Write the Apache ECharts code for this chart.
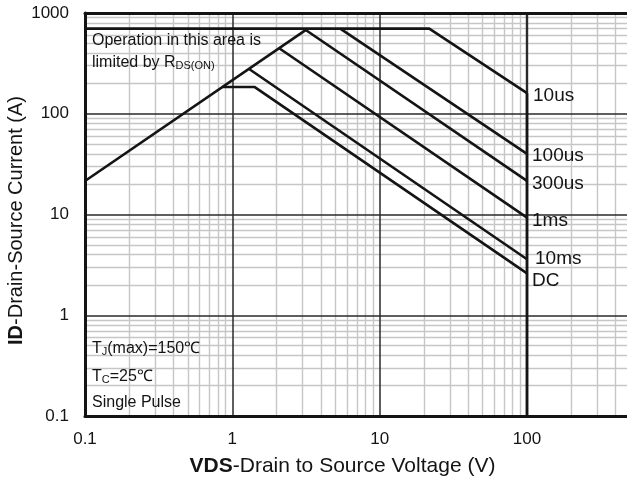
<!DOCTYPE html>
<html>
<head>
<meta charset="utf-8">
<script src="https://cdn.jsdelivr.net/npm/echarts@6/dist/echarts.min.js"></script>
<style>
    html, body {margin: 0; padding: 0; background: #fff;}
    #soa {width: 627px; height: 485px;}
</style>
</head>
<body>
<div id="soa"></div>
<script>
// Safe operating area, VDS (V) vs ID (A), log-log
const vdsRange = [0.1, 500]
const idRange = [0.1, 1000]
const decades = [0.1, 1, 10, 100]
const minorSteps = [2, 3, 4, 5, 6, 7, 8, 9]
const majorVds = [1, 10]
const majorId = [1, 10, 100]

// curves, [VDS, ID]
const rdsLimit = [[0.1, 21.5], [3.25, 700]]
const curve10us = [[0.1, 700], [21.7, 700], [100, 160]]
const curve100us = [[5.4, 700], [100, 40]]
const curve300us = [[3.15, 678], [100, 21.6]]
const curve1ms = [[2.08, 447], [100, 9.3]]
const curve10ms = [[1.3, 278], [100, 3.6]]
const curveDC = [[0.86, 184], [1.42, 184], [100, 2.6]]
const vdsMax = [[100, 160], [100, 0.1]]

const FONT = "'Liberation Sans', Arial, sans-serif"
const INK = '#141414'

function minorValues(limit) {
    const out = []
    for (const d of decades) {
        for (const k of minorSteps) {
            const v = Number((k * d).toPrecision(3))
            if (v < limit) out.push(v)
        }
    }
    return out
}

function decadeLabel(v) {
    const e = Math.log10(v)
    if (Math.abs(e - Math.round(e)) > 1e-6) return ''
    return String(Number(v.toPrecision(3)))
}

function curve(name, data, offset) {
    return {
        name: name,
        type: 'line',
        z: 3,
        data: data,
        symbol: 'none',
        silent: true,
        lineStyle: {color: INK, width: 2.6},
        endLabel: {
            show: name !== '',
            formatter: name,
            color: INK,
            fontFamily: FONT,
            fontSize: 19,
            textBorderWidth: 0,
            distance: 4,
            offset: offset || [0, 0]
        }
    }
}

const minorLines = []
for (const v of minorValues(vdsRange[1])) minorLines.push({xAxis: v})
for (const v of minorValues(idRange[1])) minorLines.push({yAxis: v})

const majorLines = []
for (const v of majorVds) majorLines.push({xAxis: v})
for (const v of majorId) majorLines.push({yAxis: v})
majorLines.push({xAxis: 100, lineStyle: {width: 2.4}})

const logAxisBase = {
    type: 'log',
    logBase: 10,
    splitLine: {show: false},
    axisTick: {show: false},
    nameMoveOverlap: false,
    z: 10
}

const option = {
    animation: false,
    textStyle: {fontFamily: FONT},
    grid: {left: 85, right: -3, top: 13, bottom: 69, outerBoundsMode: 'none', containLabel: false},
    xAxis: [
        Object.assign({}, logAxisBase, {
            min: vdsRange[0],
            max: vdsRange[1],
            position: 'bottom',
            axisLine: {onZero: false, lineStyle: {color: INK, width: 3}},
            axisLabel: {
                color: INK, fontSize: 17, margin: 15,
                showMinLabel: true, showMaxLabel: false,
                formatter: decadeLabel
            },
            name: '{b|VDS}-Drain to Source Voltage (V)',
            nameLocation: 'middle',
            nameGap: 40,
            nameTextStyle: {
                color: INK, fontSize: 21,
                padding: [0, 30, 0, 0],
                rich: {b: {fontWeight: 'bold', fontSize: 21, color: INK}}
            }
        }),
        Object.assign({}, logAxisBase, {
            min: vdsRange[0],
            max: vdsRange[1],
            position: 'top',
            axisLine: {onZero: false, lineStyle: {color: INK, width: 3}},
            axisLabel: {show: false}
        })
    ],
    yAxis: Object.assign({}, logAxisBase, {
        min: idRange[0],
        max: idRange[1],
        axisLine: {show: true, onZero: false, lineStyle: {color: INK, width: 3}},
        axisLabel: {
            color: INK, fontSize: 17, margin: 16,
            showMinLabel: true, showMaxLabel: true,
            formatter: decadeLabel
        },
        name: '{b|ID}-Drain-Source Current (A)',
        nameLocation: 'middle',
        nameGap: 59,
        nameTextStyle: {
            color: INK, fontSize: 20,
            padding: [0, 12, 0, 0],
            rich: {b: {fontWeight: 'bold', fontSize: 20, color: INK}}
        }
    }),
    series: [
        {
            type: 'line',
            z: 1,
            data: [],
            silent: true,
            markLine: {
                z: 1,
                silent: true,
                symbol: ['none', 'none'],
                label: {show: false},
                lineStyle: {type: 'solid', color: '#c6c6c6', width: 1.4},
                data: minorLines
            }
        },
        {
            type: 'line',
            z: 2,
            data: [],
            silent: true,
            markLine: {
                z: 2,
                silent: true,
                symbol: ['none', 'none'],
                label: {show: false},
                lineStyle: {type: 'solid', color: '#2a2a2a', width: 1.5},
                data: majorLines
            }
        },
        curve('', rdsLimit),
        curve('10us', curve10us, [2, 3]),
        curve('100us', curve100us, [1, 2]),
        curve('300us', curve300us, [1, 3]),
        curve('1ms', curve1ms, [1, 3]),
        curve('10ms', curve10ms, [4, 0]),
        curve('DC', curveDC, [1, 7]),
        curve('', vdsMax)
    ],
    graphic: [
        {
            type: 'text', x: 92, y: 41, z: 20,
            style: {
                text: 'Operation in this area is',
                font: '16px ' + FONT, fill: INK, verticalAlign: 'middle'
            }
        },
        {
            type: 'text', x: 92, y: 63, z: 20,
            style: {
                text: 'limited by R{s|DS(ON)}',
                font: '16px ' + FONT, fill: INK, verticalAlign: 'middle',
                rich: {s: {fontSize: 11, fontFamily: FONT, fill: INK, verticalAlign: 'bottom', lineHeight: 12}}
            }
        },
        {
            type: 'text', x: 92, y: 349, z: 20,
            style: {
                text: 'T{s|J}(max)=150℃',
                font: '16px ' + FONT, fill: INK, verticalAlign: 'middle',
                rich: {s: {fontSize: 11, fontFamily: FONT, fill: INK, verticalAlign: 'bottom', lineHeight: 12}}
            }
        },
        {
            type: 'text', x: 92, y: 377, z: 20,
            style: {
                text: 'T{s|C}=25℃',
                font: '16px ' + FONT, fill: INK, verticalAlign: 'middle',
                rich: {s: {fontSize: 11, fontFamily: FONT, fill: INK, verticalAlign: 'bottom', lineHeight: 12}}
            }
        },
        {
            type: 'text', x: 92, y: 403, z: 20,
            style: {
                text: 'Single Pulse',
                font: '16px ' + FONT, fill: INK, verticalAlign: 'middle'
            }
        }
    ]
}

const chart = echarts.init(document.getElementById('soa'))
chart.setOption(option)
</script>
</body>
</html>
